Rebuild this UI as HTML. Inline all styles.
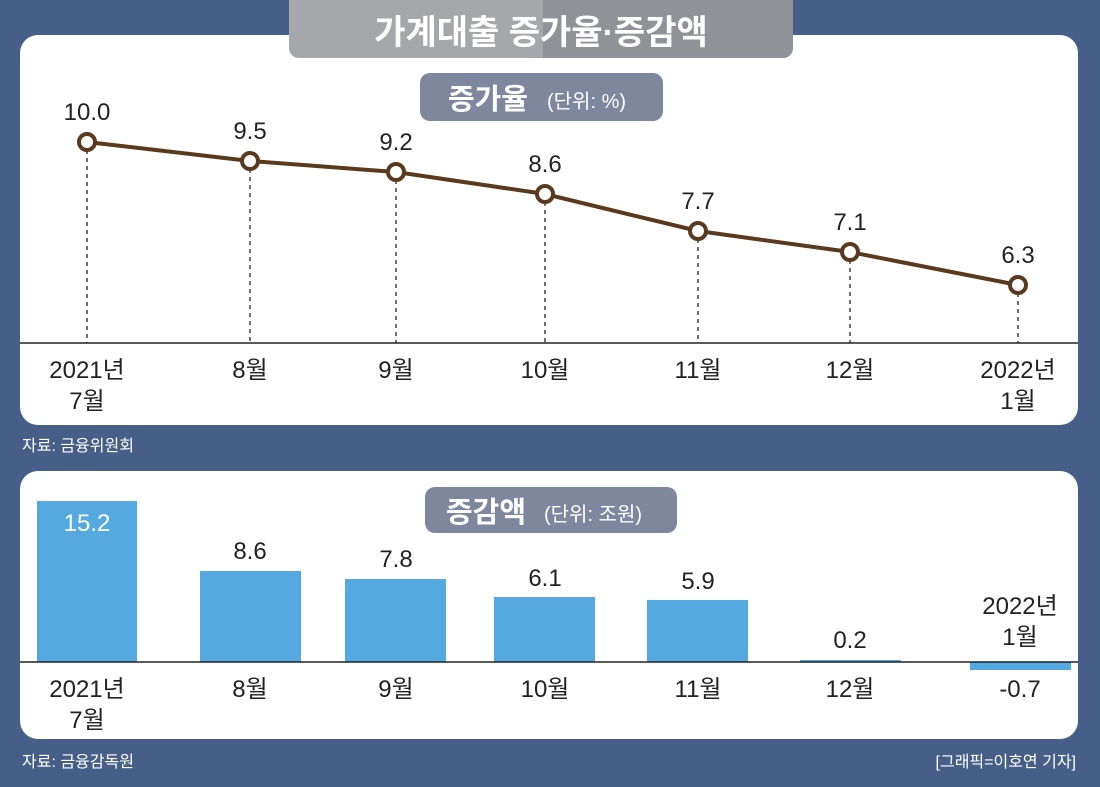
<!DOCTYPE html>
<html><head><meta charset="utf-8"><style>
body{margin:0;width:1100px;height:782px;background:#455f88;overflow:hidden;font-family:"Liberation Sans","Noto Sans CJK KR",sans-serif}
</style></head><body>
<svg width="1100" height="782" xmlns="http://www.w3.org/2000/svg" font-family="Liberation Sans, Noto Sans CJK KR, sans-serif">
<rect x="20" y="35" width="1058" height="390" rx="18" fill="#fff"/>
<rect x="20" y="471" width="1058" height="268" rx="18" fill="#fff"/>
<rect x="289" y="-10" width="504" height="68" rx="10" fill="#a5a7ab"/>
<path d="M543 -10 H783 a10 10 0 0 1 10 10 V48 a10 10 0 0 1 -10 10 H543 Z" fill="#8f9397"/>
<text x="541" y="44" text-anchor="middle" font-size="34" font-weight="bold" fill="#fff">가계대출 증가율·증감액</text>
<rect x="420" y="73" width="243" height="48" rx="10" fill="#7e879d"/>
<text x="448" y="109" font-size="29" font-weight="bold" fill="#fff">증가율</text>
<text x="547" y="108" font-size="20" fill="#fff">(단위: %)</text>
<line x1="20" y1="343" x2="1078" y2="343" stroke="#222" stroke-width="1.5"/>
<g stroke="#222" stroke-dasharray="4,4" stroke-width="1.3">
<line x1="87" y1="142" x2="87" y2="343"/><line x1="250" y1="161" x2="250" y2="343"/><line x1="396" y1="172" x2="396" y2="343"/><line x1="545" y1="194" x2="545" y2="343"/><line x1="698" y1="231" x2="698" y2="343"/><line x1="850" y1="252" x2="850" y2="343"/><line x1="1018" y1="285" x2="1018" y2="343"/>
</g>
<polyline points="87,142 250,161 396,172 545,194 698,231 850,252 1018,285" fill="none" stroke="#5a3a1e" stroke-width="4"/>
<g fill="#fff" stroke="#5a3a1e" stroke-width="4">
<circle cx="87" cy="142" r="8"/><circle cx="250" cy="161" r="8"/><circle cx="396" cy="172" r="8"/><circle cx="545" cy="194" r="8"/><circle cx="698" cy="231" r="8"/><circle cx="850" cy="252" r="8"/><circle cx="1018" cy="285" r="8"/>
</g>
<g font-size="24" fill="#222" text-anchor="middle">
<text x="87" y="120">10.0</text><text x="250" y="139">9.5</text><text x="396" y="150">9.2</text><text x="545" y="172">8.6</text><text x="698" y="209">7.7</text><text x="850" y="230">7.1</text><text x="1018" y="263">6.3</text>
<text x="87" y="378">2021년</text><text x="87" y="409">7월</text>
<text x="250" y="378">8월</text><text x="396" y="378">9월</text><text x="545" y="378">10월</text><text x="698" y="378">11월</text><text x="850" y="378">12월</text>
<text x="1018" y="378">2022년</text><text x="1018" y="409">1월</text>
</g>
<text x="22" y="451" font-size="16" fill="#fff">자료: 금융위원회</text>
<rect x="425" y="487" width="252" height="46" rx="10" fill="#7e879d"/>
<text x="446" y="522" font-size="29" font-weight="bold" fill="#fff">증감액</text>
<text x="544" y="521" font-size="20" fill="#fff">(단위: 조원)</text>
<g fill="#53a9e0">
<rect x="37" y="501" width="100" height="161"/><rect x="200" y="571" width="101" height="91"/><rect x="345" y="579" width="101" height="83"/><rect x="494" y="597" width="101" height="65"/><rect x="647" y="600" width="101" height="62"/><rect x="800" y="660" width="101" height="2"/><rect x="970" y="662" width="101" height="8"/>
</g>
<line x1="20" y1="662" x2="1078" y2="662" stroke="#222" stroke-width="1.5"/>
<g font-size="24" fill="#222" text-anchor="middle">
<text x="87" y="531" fill="#fff">15.2</text><text x="250" y="559">8.6</text><text x="396" y="567">7.8</text><text x="545" y="586">6.1</text><text x="698" y="589">5.9</text><text x="850" y="648">0.2</text>
<text x="1020" y="614">2022년</text><text x="1020" y="645">1월</text><text x="1020" y="697">-0.7</text>
<text x="87" y="697">2021년</text><text x="87" y="728">7월</text>
<text x="250" y="697">8월</text><text x="396" y="697">9월</text><text x="545" y="697">10월</text><text x="698" y="697">11월</text><text x="850" y="697">12월</text>
</g>
<text x="22" y="767" font-size="16" fill="#fff">자료: 금융감독원</text>
<text x="1076" y="767" font-size="16" fill="#fff" text-anchor="end">[그래픽=이호연 기자]</text>
</svg>
</body></html>
